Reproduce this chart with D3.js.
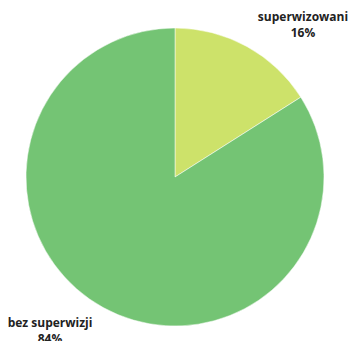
<!DOCTYPE html>
<html><head><meta charset="utf-8">
<script src="https://cdn.jsdelivr.net/npm/d3@7"></script>
<style>body{margin:0;background:#fff;}svg{display:block;}</style>
</head><body>
<svg id="c" width="348" height="341"></svg>
<script>
const categories = ["superwizowani", "bez superwizji"];
const values = [16, 84];
const labels = ["16%", "84%"];
const colors = ["#cde26a", "#74c474"];

const svg = d3.select("#c");
const cx = 175, cy = 177, r = 149;
const pie = d3.pie().sort(null).value(d => d.v);
const arcs = pie(categories.map((c, i) => ({c, v: values[i], i})));
const arc = d3.arc().innerRadius(0).outerRadius(r);
const g = svg.append("g").attr("transform", `translate(${cx},${cy})`);
g.selectAll("path").data(arcs).join("path")
  .attr("d", arc)
  .attr("fill", d => colors[d.data.i])
  .attr("stroke", "#fff").attr("stroke-width", 0.5);

const labelPos = [[303, 21], [50, 327]];
arcs.forEach((a, i) => {
  const t = svg.append("text")
    .attr("x", labelPos[i][0]).attr("y", labelPos[i][1])
    .attr("text-anchor", "middle")
    .attr("font-family", "'Open Sans', sans-serif")
    .attr("font-weight", "bold").attr("font-size", 12).attr("fill", "#222");
  t.append("tspan").attr("x", labelPos[i][0]).text(categories[i]);
  t.append("tspan").attr("x", labelPos[i][0]).attr("dy", 16).text(labels[i]);
});
</script>
</body></html>
